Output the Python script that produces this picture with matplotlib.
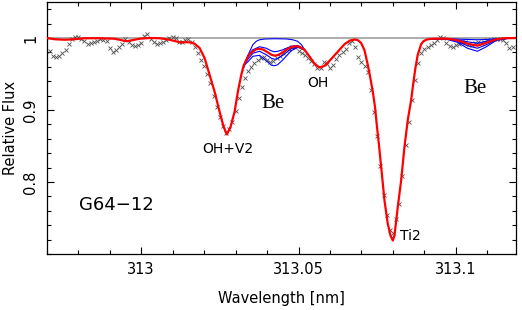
import matplotlib
matplotlib.use("Agg")
import matplotlib.pyplot as plt
from matplotlib.ticker import MultipleLocator, FixedLocator, FixedFormatter

# observed spectrum (crosses)
wave_obs = [
    312.971, 312.972, 312.973, 312.974, 312.975, 312.976, 312.977, 312.978, 312.979, 312.980,
    312.981, 312.982, 312.983, 312.984, 312.985, 312.986, 312.987, 312.988, 312.989, 312.990,
    312.991, 312.992, 312.993, 312.994, 312.995, 312.996, 312.997, 312.998, 312.999, 313.000,
    313.001, 313.002, 313.003, 313.004, 313.005, 313.006, 313.007, 313.008, 313.009, 313.010,
    313.011, 313.012, 313.013, 313.014, 313.015, 313.016, 313.017, 313.018, 313.019, 313.020,
    313.021, 313.022, 313.023, 313.024, 313.025, 313.026, 313.027, 313.028, 313.029, 313.030,
    313.031, 313.032, 313.033, 313.034, 313.035, 313.036, 313.037, 313.038, 313.039, 313.040,
    313.041, 313.042, 313.043, 313.044, 313.045, 313.046, 313.047, 313.048, 313.049, 313.050,
    313.051, 313.052, 313.053, 313.054, 313.055, 313.056, 313.057, 313.058, 313.059, 313.060,
    313.061, 313.062, 313.063, 313.064, 313.065, 313.066, 313.067, 313.068, 313.069, 313.070,
    313.071, 313.072, 313.073, 313.074, 313.075, 313.076, 313.077, 313.078, 313.079, 313.080,
    313.081, 313.082, 313.083, 313.084, 313.085, 313.086, 313.087, 313.088, 313.089, 313.090,
    313.091, 313.092, 313.093, 313.094, 313.095, 313.096, 313.097, 313.098, 313.099, 313.100,
    313.101, 313.102, 313.103, 313.104, 313.105, 313.106, 313.107, 313.108, 313.109, 313.110,
    313.111, 313.112, 313.113, 313.114, 313.115, 313.116, 313.117, 313.118,
]
flux_obs = [
    0.982, 0.975, 0.9735, 0.975, 0.979, 0.983, 0.991, 0.999, 1.002, 1.001,
    0.9986, 0.9955, 0.992, 0.9937, 0.995, 0.9965, 0.998, 0.9976, 0.9955, 0.986,
    0.981, 0.983, 0.988, 0.992, 0.998, 0.994, 0.990, 0.9886, 0.990, 0.9934,
    1.003, 1.005, 0.999, 0.994, 0.992, 0.993, 0.995, 0.9976, 1.0004, 1.001,
    0.9997, 0.994, 0.995, 0.997, 0.9983, 0.995, 0.987, 0.979, 0.970, 0.961,
    0.950, 0.938, 0.9195, 0.904, 0.890, 0.878, 0.868, 0.8735, 0.883, 0.899,
    0.917, 0.932, 0.945, 0.954, 0.960, 0.965, 0.969, 0.9725, 0.973, 0.970,
    0.967, 0.968, 0.972, 0.975, 0.979, 0.983, 0.9845, 0.988, 0.987, 0.9816,
    0.9795, 0.976, 0.9725, 0.968, 0.9635, 0.959, 0.959, 0.966, 0.964, 0.9586,
    0.962, 0.971, 0.976, 0.980, 0.985, 0.993, 0.996, 0.988, 0.974, 0.967,
    0.961, 0.9526, 0.928, 0.897, 0.864, 0.822, 0.7815, 0.7536, 0.734, 0.7285,
    0.749, 0.769, 0.808, 0.851, 0.883, 0.914, 0.942, 0.9655, 0.9795, 0.985,
    0.988, 0.9907, 0.993, 0.9976, 1.001, 0.9997, 0.9934, 0.9886, 0.988, 0.990,
    0.992, 0.9944, 0.995, 0.9914, 0.990, 0.9934, 0.994, 0.993, 0.994, 0.997,
    0.9976, 0.9983, 0.999, 0.9983, 0.997, 0.9927, 0.9865, 0.988,
]

# best fit synthetic spectrum (red)
wave_fit = [
    312.9699, 312.97254, 312.97571, 312.97889, 312.98206, 312.98683, 312.99159, 312.99540,
    312.99952, 313.00270, 313.00587, 313.00905, 313.01222, 313.01540, 313.01698, 313.01857,
    313.02016, 313.02175, 313.02333, 313.02492, 313.02619, 313.02724, 313.02841, 313.02968,
    313.03073, 313.03181, 313.03254, 313.03340, 313.03444, 313.03549, 313.03657, 313.03762,
    313.03889, 313.04016, 313.04143, 313.04254, 313.04365, 313.04502, 313.04635, 313.04768,
    313.04905, 313.05032, 313.05190, 313.05349, 313.05508, 313.05667, 313.05825, 313.05984,
    313.06143, 313.06302, 313.06460, 313.06619, 313.06778, 313.06889, 313.06990, 313.07095,
    313.07200, 313.07286, 313.07359, 313.07429, 313.07486, 313.07556, 313.07625, 313.07730,
    313.07835, 313.07921, 313.07994, 313.08048, 313.08152, 313.08260, 313.08365, 313.08470,
    313.08578, 313.08651, 313.08714, 313.08787, 313.08895, 313.08968, 313.09054, 313.09159,
    313.09317, 313.09730, 313.10048, 313.10365, 313.10683, 313.10968, 313.11286, 313.11540,
    313.11889,
]
flux_fit = [
    1.000, 0.9983, 0.9976, 0.9983, 0.9997, 0.9997, 0.9990, 0.9955,
    0.9990, 1.000, 0.9997, 0.9976, 0.9941, 0.9941, 0.9921, 0.9861,
    0.9721, 0.9488, 0.9255, 0.8976, 0.8767, 0.8661, 0.8767, 0.8976,
    0.9255, 0.9488, 0.9614, 0.9697, 0.9774, 0.9813, 0.9844, 0.9851,
    0.9837, 0.9802, 0.9767, 0.9753, 0.9767, 0.9802, 0.9844, 0.9872,
    0.9886, 0.9879, 0.9837, 0.9743, 0.9642, 0.9590, 0.9614, 0.9683,
    0.9760, 0.9837, 0.9914, 0.9962, 0.9980, 0.9969, 0.9930, 0.9830,
    0.9628, 0.9432, 0.9255, 0.9042, 0.8791, 0.8512, 0.8209, 0.7745,
    0.7420, 0.7257, 0.7187, 0.7257, 0.7651, 0.8024, 0.8488, 0.8861,
    0.9139, 0.9391, 0.9586, 0.9767, 0.9914, 0.9955, 0.9976, 0.9986,
    0.9990, 0.9990, 0.9969, 0.9921, 0.9893, 0.9934, 0.9983, 0.9997,
    1.000,
]

# other Be abundances (blue), first Be II line
wave_be1_top = [313.03181, 313.03340, 313.03444, 313.03549, 313.03657, 313.03762, 313.03921,
                313.04238, 313.04619, 313.04810, 313.04968, 313.05095, 313.05190]
flux_be1_top = [0.9488, 0.9690, 0.9810, 0.9907, 0.9955, 0.9976, 0.9986,
                0.9990, 0.9987, 0.9976, 0.9955, 0.9907, 0.9837]
wave_be1 = [313.03254, 313.03390, 313.03549, 313.03762, 313.03975, 313.04143,
            313.04238, 313.04333, 313.04502, 313.04768, 313.04978, 313.05190]
flux_be1_upper = [0.9614, 0.9760, 0.9837, 0.9879, 0.9858, 0.9820,
                  0.9809, 0.9815, 0.9837, 0.9886, 0.9895, 0.9841]
flux_be1_lower = [0.9614, 0.9704, 0.9788, 0.9816, 0.9767, 0.9718,
                  0.9704, 0.9715, 0.9760, 0.9851, 0.9879, 0.9834]
flux_be1_lowest = [0.9614, 0.9669, 0.9746, 0.9760, 0.9683, 0.9621,
                   0.9615, 0.9628, 0.9697, 0.9823, 0.9872, 0.9833]

# second Be II line
wave_be2 = [313.09159, 313.09730, 313.10048, 313.10365, 313.10683, 313.10968, 313.11286, 313.11698]
flux_be2_top = [0.9986, 0.9990, 0.9985, 0.9980, 0.9976, 0.9980, 0.9990, 0.9997]
flux_be2_upper = [0.9986, 0.9990, 0.9974, 0.9948, 0.9927, 0.9955, 0.9986, 0.9997]
flux_be2_lower = [0.9986, 0.9983, 0.9955, 0.9893, 0.9858, 0.9907, 0.9976, 0.9997]
flux_be2_lowest = [0.9986, 0.9979, 0.9941, 0.9858, 0.9816, 0.9879, 0.9969, 0.9997]

fig = plt.figure(figsize=(5.22, 3.10), dpi=100)
ax = fig.add_axes([0.0895, 0.1806, 0.8985, 0.8129])

ax.axhline(1.0, color="#a6a6a6", lw=1.3, zorder=1)
ax.plot(wave_obs, flux_obs, ls="none", marker="x", ms=3.2, mew=0.6, color="#505050", zorder=2)

for w, f in [(wave_be1_top, flux_be1_top), (wave_be1, flux_be1_upper),
             (wave_be1, flux_be1_lower), (wave_be1, flux_be1_lowest),
             (wave_be2, flux_be2_top), (wave_be2, flux_be2_upper),
             (wave_be2, flux_be2_lower), (wave_be2, flux_be2_lowest)]:
    ax.plot(w, f, color="blue", lw=0.8, zorder=3)

ax.plot(wave_fit, flux_fit, color="red", lw=1.6, zorder=4)

ax.set_xlim(312.97, 313.119)
ax.set_ylim(0.70, 1.05)

ax.xaxis.set_major_locator(FixedLocator([313.0, 313.05, 313.1]))
ax.xaxis.set_major_formatter(FixedFormatter(["313", "313.05", "313.1"]))
ax.xaxis.set_minor_locator(MultipleLocator(0.01))
ax.yaxis.set_major_locator(FixedLocator([0.8, 0.9, 1.0]))
ax.yaxis.set_major_formatter(FixedFormatter(["0.8", "0.9", "1"]))
ax.yaxis.set_minor_locator(MultipleLocator(0.02))

ax.tick_params(which="both", direction="in", top=True, right=True, width=0.8, labelsize=10.5)
ax.tick_params(which="major", length=5)
ax.tick_params(which="minor", length=2.8)
ax.tick_params(axis="x", pad=6)
ax.tick_params(axis="y", pad=6)
for lab in ax.get_yticklabels():
    lab.set_rotation(90)
    lab.set_va("center")
for s in ax.spines.values():
    s.set_linewidth(0.9)

ax.set_xlabel("Wavelength [nm]", fontsize=10.5, labelpad=10)
ax.set_ylabel("Relative Flux", fontsize=10.5, labelpad=4)

ax.text(313.0275, 0.8456, "OH+V2", ha="center", va="center", fontsize=10)
ax.text(313.0418, 0.9084, "Be", ha="center", va="center", fontsize=15, family="Liberation Serif")
ax.text(313.0562, 0.9372, "OH", ha="center", va="center", fontsize=10)
ax.text(313.1059, 0.9293, "Be", ha="center", va="center", fontsize=15, family="Liberation Serif")
ax.text(313.0821, 0.7257, "Ti2", ha="left", va="center", fontsize=10)
ax.text(312.9921, 0.7675, "G64\u221212", ha="center", va="center", fontsize=13)

fig.savefig("out.png", dpi=100)
